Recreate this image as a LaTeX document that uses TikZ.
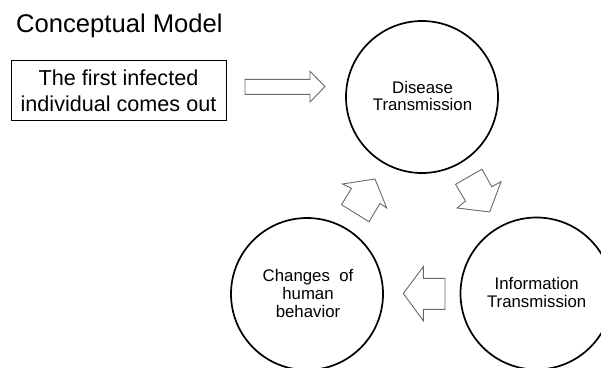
\documentclass[tikz,border=0pt]{standalone}
\usepackage{fontspec}
\usepackage{graphicx}
\setmainfont{Liberation Sans}
\definecolor{arrowgray}{RGB}{105,105,105}
\tikzset{
  cyclenode/.style={circle, draw=black, line width=1.7pt, minimum size=152pt, inner sep=0pt},
  circtext/.style={anchor=base, inner sep=0pt, font=\fontsize{16.8}{17.8}\selectfont},
  boxtext/.style={anchor=base, inner sep=0pt, font=\fontsize{21.6}{26.2}\selectfont},
  startbox/.style={draw=black, line width=0.9pt, minimum width=215pt, minimum height=60pt, inner sep=0pt},
  blockarrow/.style={draw=arrowgray, line width=0.9pt, fill=white, line join=miter},
  titletext/.style={anchor=base west, inner sep=0pt, font=\fontsize{25.6}{30}\selectfont}
}
\begin{document}
\begin{tikzpicture}[x=1pt,y=-1pt]
\useasboundingbox (0,0) rectangle (601,367);
\fill[white] (0,0) rectangle (601,367);
\clip (0,0) rectangle (601,367);

% title
\node[titletext] (title) at (16,32) {Conceptual Model};

% start box
\node[startbox] (start) at (118.5,90) {};
\node[boxtext] (starttext) at (118.5,111.5) {\begin{tabular}[b]{@{}c@{}}The first infected\\individual comes out\end{tabular}};

% circles
\node[cyclenode] (disease) at (422,97) {};
\node[cyclenode] (behav) at (307,294) {};
\node[cyclenode] (info) at (536.5,293.5) {};

\node[circtext] (diseasetext) at (422.5,110.8) {\begin{tabular}[b]{@{}c@{}}Disease\\Transmission\end{tabular}};
\node[circtext] (behavtext) at (308,317) {\begin{tabular}[b]{@{}c@{}}Changes\ \ of\\human\\behavior\end{tabular}};
\node[circtext] (infotext) at (536.7,307.5) {\begin{tabular}[b]{@{}c@{}}Information\\Transmission\end{tabular}};

% block arrows
\draw[blockarrow] (245,79.3) -- (310,79.3) -- (310,71.3) -- (325,86.5) -- (310,102) -- (310,94.3) -- (245,94.3) -- cycle;
\draw[blockarrow] (342.5,184) -- (375,179) -- (386.7,208) -- (380,203.5) -- (369,221.7) -- (341.5,204.7) -- (351.5,188.3) -- cycle;
\draw[blockarrow] (455.5,184.3) -- (482,169.2) -- (491.7,186.7) -- (501,181.7) -- (489.7,212) -- (457.2,208) -- (465.5,201) -- cycle;
\draw[blockarrow] (403.3,293.5) -- (423.3,266.7) -- (423.3,278.3) -- (445,278.3) -- (445,309.3) -- (423.3,309.3) -- (423.3,320.7) -- cycle;
\end{tikzpicture}
\end{document}
